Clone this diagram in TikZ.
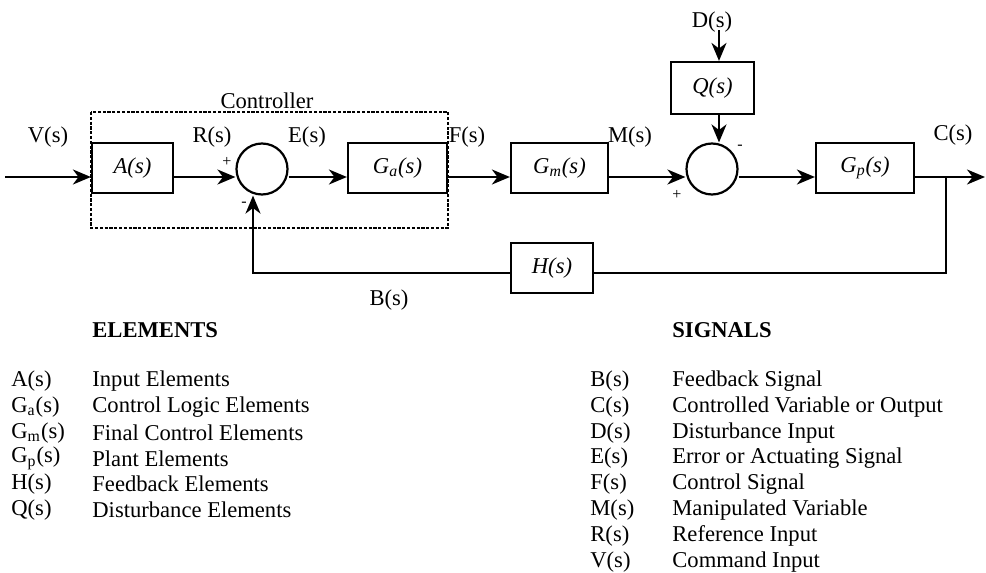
\documentclass[tikz,border=0pt]{standalone}
\usepackage{fontspec}
\setmainfont{Liberation Serif}
\usetikzlibrary{arrows.meta, positioning, calc}
\tikzset{
    x=0.5pt, y=-0.5pt, % one unit is one pixel of the sketch, y grows downwards
    >={Stealth[length=9pt, width=7.5pt, inset=2.8pt]}, % filled arrow heads
    every node/.style={font=\fontsize{11.3}{12.5}\selectfont},
    block/.style={draw, line width=1.1pt, minimum height=25pt, inner sep=0pt,
        font=\fontsize{11.3}{12.5}\selectfont\itshape}, % transfer function boxes
    summer/.style={draw, line width=1.1pt, circle, minimum size=25.5pt, inner sep=0pt},
    sign/.style={inner sep=0pt, font=\fontsize{8}{9}\selectfont},
    signal/.style={line width=1.1pt},
    ctrlbox/.style={line width=1.2pt, dash pattern=on 1.6pt off 0.8pt},
    heading/.style={anchor=west, inner sep=0pt, font=\fontsize{11.3}{12.5}\selectfont\bfseries},
    legend/.style={anchor=west, inner sep=0pt},
}

\begin{document}
\begin{tikzpicture}
    \useasboundingbox (0,0) rectangle (986,573);

    % blocks of the loop
    \node[block, minimum width=40.5pt] (A) at (132.5,168) {A(s)};
    \node[summer] (sum1) at (262,169) {};
    \node[block, minimum width=49.5pt] (Ga) at (397.5,168) {G\textsubscript{a}(s)};
    \node[block, minimum width=48.5pt] (Gm) at (559.5,168) {G\textsubscript{m}(s)};
    \node[summer] (sum2) at (712,169) {};
    \node[block, minimum width=41.5pt, minimum height=26pt] (Q) at (712.5,88) {Q(s)};
    \node[block, minimum width=49pt] (Gp) at (865,168) {G\textsubscript{p}(s)};
    \node[block, minimum width=41pt] (H) at (552,268) {H(s)};

    % points on the signal lines
    \coordinate (in) at (5,177);
    \coordinate (out) at (985,177);
    \coordinate (tap) at (946,177);
    \coordinate (fbR) at (946,273);
    \coordinate (fbL) at (253,273);
    \coordinate (dist) at (719,30);

    % forward path
    \draw[signal, ->] (in) -- (in -| A.west);
    \draw[signal, ->] (A.east |- in) -- (sum1.west |- in);
    \draw[signal, ->] (sum1.east |- in) -- (Ga.west |- in);
    \draw[signal, ->] (Ga.east |- in) -- (Gm.west |- in);
    \draw[signal, ->] (Gm.east |- in) -- (sum2.west |- in);
    \draw[signal, ->] (sum2.east |- in) -- (Gp.west |- in);
    \draw[signal, ->] (Gp.east |- in) -- (out);

    % feedback and disturbance
    \draw[signal] (tap) -- (fbR) -- (fbR -| H.east);
    \draw[signal, ->] (H.west |- fbL) -- (fbL) -- (fbL |- sum1.south);
    \draw[signal, ->] (dist) -- (dist |- Q.north);
    \draw[signal, ->] (dist |- Q.south) -- (dist |- sum2.north);

    % controller frame
    \draw[ctrlbox] (91,112) rectangle (448,228);
    \node (ctrl) at (267,101) {Controller};

    % signal names
    \node (Vs) at (48,137) {V(s)};
    \node (Rs) at (212,137) {R(s)};
    \node (Es) at (307,137) {E(s)};
    \node (Fs) at (467,137) {F(s)};
    \node (Ms) at (630,137) {M(s)};
    \node (Cs) at (953,135) {C(s)};
    \node (Ds) at (712,22) {D(s)};
    \node (Bs) at (389,300) {B(s)};

    \node[sign] (p1) at (227,162) {+};
    \node[sign] (m1) at (244,204) {-};
    \node[sign] (p2) at (677,195) {+};
    \node[sign] (m2) at (740,147) {-};

    % legend
    \node[heading] (elements) at (92,330) {ELEMENTS};
    \node[heading] (signals) at (672,330) {SIGNALS};
    \foreach \sym/\txt [count=\i from 0] in {A(s)/Input Elements,
            G\textsubscript{a}(s)/Control Logic Elements,
            G\textsubscript{m}(s)/Final Control Elements,
            G\textsubscript{p}(s)/Plant Elements,
            H(s)/Feedback Elements,
            Q(s)/Disturbance Elements}
    {
        \node[legend] (elsym\i) at (11,{381+25.8*\i}) {\sym};
        \node[legend] (eltxt\i) at (92,{381+25.8*\i}) {\txt};
    }
    \foreach \sym/\txt [count=\i from 0] in {B(s)/Feedback Signal,
            C(s)/Controlled Variable or Output,
            D(s)/Disturbance Input,
            E(s)/Error or Actuating Signal,
            F(s)/Control Signal,
            M(s)/Manipulated Variable,
            R(s)/Reference Input,
            V(s)/Command Input}
    {
        \node[legend] (sgsym\i) at (590,{381+25.8*\i}) {\sym};
        \node[legend] (sgtxt\i) at (672,{381+25.8*\i}) {\txt};
    }
\end{tikzpicture}
\end{document}
